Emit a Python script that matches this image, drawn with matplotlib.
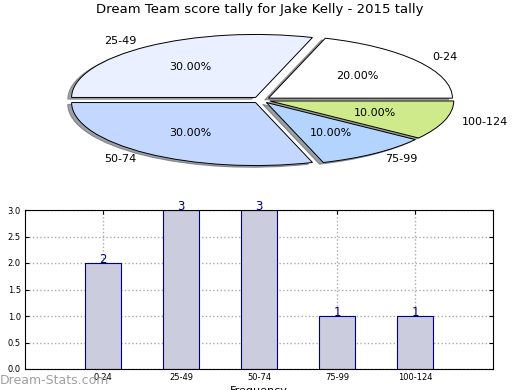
import matplotlib
matplotlib.use("Agg")
import matplotlib.pyplot as plt

categories = ["0-24", "25-49", "50-74", "75-99", "100-124"]
counts = [2, 3, 3, 1, 1]
pie_colors = ["#ffffff", "#eaf0ff", "#c4d8ff", "#b3d4ff", "#cfea8a"]
yticks = [0.0, 0.5, 1.0, 1.5, 2.0, 2.5, 3.0]

fig = plt.figure(figsize=(5.2, 3.9), dpi=100)

fig.text(0.5, 1 - 10 / 390, "Dream Team score tally for Jake Kelly - 2015 tally",
         ha="center", va="center", fontsize=9.5)

rx, ry, cx, cy = 184, 63, 261, 100
axp = fig.add_axes([(cx - 1.25 * rx) / 520, (390 - cy - 1.25 * ry) / 390,
                    2.5 * rx / 520, 2.5 * ry / 390])
wedges, texts, autotexts = axp.pie(
    counts, labels=categories, colors=pie_colors, autopct="%.2f%%",
    explode=[0.05] * 5, shadow=dict(ox=-0.015, oy=-0.02), startangle=0, counterclock=True,
    wedgeprops=dict(edgecolor="black", linewidth=0.7),
    textprops=dict(fontsize=8))
axp.set_aspect("auto")
axp.set_xlim(-1.25, 1.25)
axp.set_ylim(-1.25, 1.25)
axp.axis("off")

axb = fig.add_axes([25 / 520, 1 - 369 / 390, 468 / 520, 159 / 390])
x = list(range(1, len(categories) + 1))
bars = axb.bar(x, counts, width=0.46, color="#ccccdf", edgecolor="#000080", linewidth=0.8, zorder=2)
for xi, c in zip(x, counts):
    axb.text(xi, c, str(c), ha="center", va="baseline", color="#000080", fontsize=8.5)
axb.set_xlim(0, 6)
axb.set_ylim(0, 3)
axb.set_xticks(x)
axb.set_xticklabels(categories, fontsize=6)
axb.set_yticks(yticks)
axb.set_yticklabels([f"{v:.1f}" for v in yticks], fontsize=6)
axb.tick_params(direction="in", length=3, top=True, right=True, pad=3)
axb.grid(True, linestyle=":", color="#aaaaaa", linewidth=1)
axb.set_axisbelow(True)
axb.set_xlabel("Frequency", fontsize=8, labelpad=3)
axb.set_ylabel("Stat Intervals", fontsize=8, labelpad=3)

fig.text(0.0, 1 - 380 / 390, "Dream-Stats.com", color="#a0a0a0", fontsize=9,
         ha="left", va="center")

fig.savefig("out.png", dpi=100)
